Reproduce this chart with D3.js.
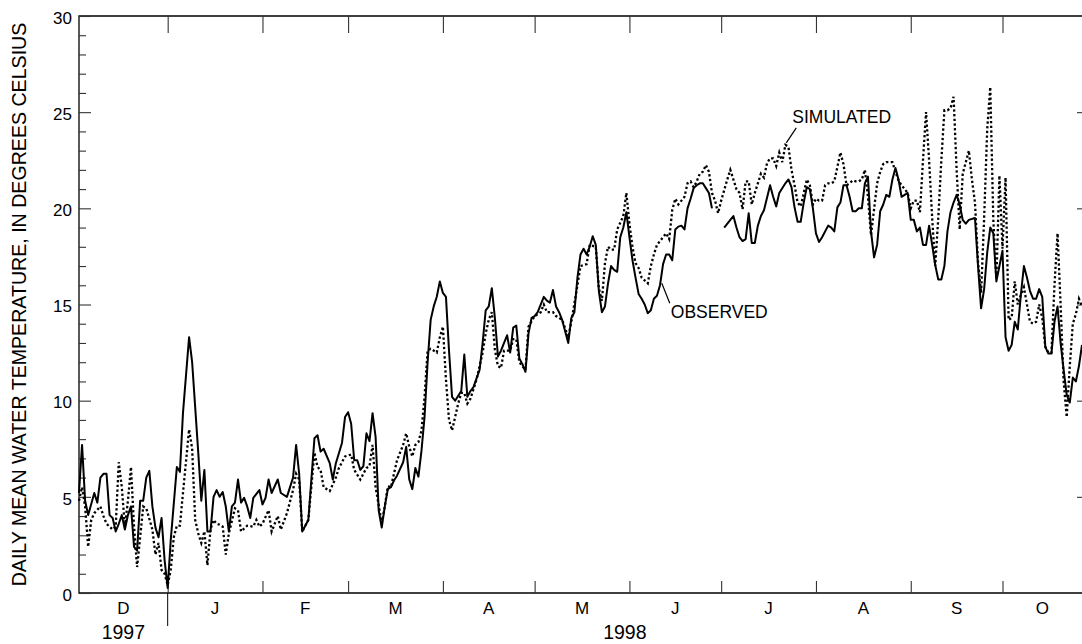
<!DOCTYPE html>
<html>
<head>
<meta charset="utf-8">
<script src="https://cdn.jsdelivr.net/npm/d3@7"></script>
<style>
  body { margin: 0; background: #fff; }
  svg { display: block; font-family: "Liberation Sans", Arial, sans-serif; }
</style>
</head>
<body>
<svg id="chart" width="1082" height="644"></svg>
<script>
/* Zeitraum */
const startDay = new Date(Date.UTC(1997, 11, 3));
const endDay   = new Date(Date.UTC(1998, 9, 27));

/* Achsenbeschriftung */
const monthLabels = ["D", "J", "F", "M", "A", "M", "J", "J", "A", "S", "O"];
const yearLabels  = ["1997", "1998"];
const yMajor      = [0, 5, 10, 15, 20, 25, 30];
const yMinor      = d3.range(0, 31);
const yRight      = [5, 10, 15, 20, 25];
const yLabel      = "DAILY MEAN WATER TEMPERATURE, IN DEGREES CELSIUS";

/* Tageswerte: [Tag seit 3.12.1997, Temperatur] */
const observed = [[0,5.2],[1,7.7],[2,4.8],[3,4.05],[5,5.2],[6,4.7],[7,6.0],[8,6.2],[9,6.2],[10,4.05],[11,3.9],[12,3.2],[13,3.6],[14,4.05],[15,3.3],[16,4.05],[17,4.5],[18,2.4],[19,2.2],[20,4.8],[21,4.8],[22,6.0],[23,6.35],[24,4.5],[25,3.4],[26,2.9],[27,3.9],[28,1.7],[29,0.26],[30,2.75],[32,6.55],[33,6.3],[34,9.35],[36,13.3],[37,12.0],[39,7.3],[40,4.8],[41,6.4],[42,3.2],[43,3.2],[44,5.0],[45,5.35],[46,5.0],[47,5.25],[48,4.5],[49,3.2],[50,4.5],[51,4.7],[52,5.9],[53,4.7],[54,4.95],[55,4.5],[56,3.9],[57,4.95],[59,5.35],[60,4.6],[61,4.95],[62,5.9],[63,5.2],[65,5.9],[66,5.2],[68,5.0],[70,6.0],[71,7.7],[72,6.2],[73,3.2],[75,3.8],[77,8.05],[78,8.2],[79,7.35],[80,7.5],[82,6.75],[83,5.9],[84,6.75],[86,7.8],[87,9.15],[88,9.4],[89,8.8],[90,6.9],[91,6.9],[92,6.4],[93,6.6],[94,8.3],[95,7.9],[96,9.35],[97,8.1],[98,4.3],[99,3.4],[100,4.5],[101,5.4],[102,5.5],[103,5.85],[104,6.1],[106,6.8],[107,7.6],[108,5.9],[109,5.4],[110,6.5],[111,6.05],[112,7.4],[113,9.15],[114,12.0],[115,14.2],[116,14.9],[117,15.4],[118,16.2],[119,15.6],[120,15.4],[121,12.6],[122,10.2],[123,10.0],[125,10.5],[126,12.4],[127,10.2],[128,10.5],[129,10.7],[131,11.6],[132,13.0],[133,14.7],[134,14.9],[135,15.85],[136,14.3],[137,12.3],[138,12.6],[139,13.0],[140,13.4],[141,12.5],[142,13.8],[143,13.9],[144,12.2],[145,11.9],[146,11.5],[147,13.5],[148,14.3],[149,14.4],[150,14.6],[152,15.4],[153,15.2],[154,15.1],[155,15.75],[156,14.9],[157,14.6],[158,14.2],[160,13.0],[161,14.3],[162,14.6],[163,16.4],[164,17.6],[165,17.9],[166,17.6],[167,18.0],[168,18.55],[169,18.1],[170,15.7],[171,14.6],[172,14.9],[173,16.1],[174,17.0],[175,16.8],[176,16.7],[177,18.5],[178,19.0],[179,19.8],[180,18.5],[181,17.3],[182,16.4],[183,15.55],[184,15.3],[185,15.0],[186,14.55],[187,14.7],[188,15.3],[189,15.45],[190,16.0],[191,17.1],[192,17.6],[193,17.6],[194,17.3],[195,18.9],[196,19.05],[197,19.1],[198,18.9],[199,20.0],[200,20.5],[201,21.05],[202,21.2],[203,21.3],[204,21.3],[205,21.05],[206,20.8],[207,20.0],[209,null],[211,19.0],[213,19.4],[214,19.6],[215,19.0],[216,18.5],[217,18.3],[218,18.4],[219,19.75],[220,18.2],[221,18.2],[222,19.1],[223,19.6],[224,19.9],[226,21.2],[227,20.6],[228,20.1],[229,20.8],[231,21.3],[232,21.5],[233,21.1],[234,20.05],[235,19.3],[236,19.3],[237,20.3],[238,21.1],[239,21.0],[240,20.0],[241,18.7],[242,18.25],[243,18.5],[245,19.1],[246,19.0],[247,18.8],[248,20.05],[249,20.3],[250,21.2],[251,21.2],[252,20.6],[253,19.85],[254,19.85],[255,20.0],[256,20.0],[257,21.3],[258,21.65],[259,18.8],[260,17.45],[261,18.1],[262,19.85],[263,20.2],[264,20.7],[265,20.6],[266,21.5],[267,22.1],[268,21.5],[269,20.6],[270,20.7],[271,20.8],[272,19.4],[273,19.4],[274,18.8],[275,19.0],[276,18.1],[277,18.1],[278,19.1],[279,18.1],[280,17.05],[281,16.3],[282,16.3],[283,17.0],[284,18.8],[285,19.8],[286,20.3],[287,20.7],[288,20.2],[289,19.4],[290,19.2],[291,19.4],[293,19.5],[294,17.0],[295,14.8],[296,15.8],[297,17.7],[298,19.0],[299,18.7],[300,16.2],[301,17.0],[302,17.8],[303,13.3],[304,12.6],[305,12.9],[306,14.1],[307,13.7],[308,15.5],[309,17.0],[310,16.4],[311,15.7],[312,15.3],[313,15.3],[314,15.8],[315,15.4],[316,12.8],[317,12.45],[318,12.45],[319,14.1],[320,14.9],[321,13.0],[322,11.6],[323,10.3],[324,9.9],[325,11.2],[326,11.0],[327,11.8],[328,12.9]];

const simulated = [[0,4.8],[1,5.5],[2,4.5],[3,2.4],[4,3.8],[5,4.15],[7,4.5],[8,4.0],[9,3.6],[11,3.3],[12,3.45],[13,6.8],[14,5.5],[15,3.45],[16,4.8],[17,6.55],[18,3.45],[19,1.35],[20,2.9],[21,4.5],[22,4.4],[24,3.3],[25,2.0],[26,2.6],[27,1.2],[28,1.0],[29,0.4],[30,1.2],[31,2.9],[32,3.5],[33,3.5],[34,5.2],[36,8.5],[37,7.5],[38,3.8],[39,3.1],[40,2.6],[41,3.2],[42,1.45],[43,3.3],[44,3.8],[45,3.6],[46,3.55],[47,3.45],[48,2.0],[49,3.1],[51,4.4],[52,4.3],[53,3.2],[55,3.5],[57,3.45],[58,3.8],[59,3.45],[60,3.6],[62,4.3],[63,3.2],[64,3.6],[65,4.0],[66,3.3],[68,4.15],[70,5.35],[71,6.2],[72,5.9],[73,3.2],[75,3.8],[77,7.3],[78,6.55],[79,6.4],[80,5.5],[82,5.3],[84,6.0],[85,6.5],[87,7.1],[89,7.2],[90,6.4],[92,5.9],[94,6.5],[95,6.6],[96,7.7],[97,5.5],[99,3.65],[100,4.5],[101,5.55],[102,5.5],[103,6.2],[104,6.9],[106,7.7],[107,8.3],[108,7.6],[109,7.1],[110,7.7],[111,7.85],[112,8.45],[113,10.2],[114,12.6],[115,12.7],[117,12.5],[118,13.3],[119,13.85],[120,11.1],[121,9.0],[122,8.45],[124,9.85],[125,10.4],[126,10.4],[127,9.85],[128,10.1],[130,11.1],[132,12.5],[133,13.5],[134,14.2],[135,14.6],[136,12.65],[137,11.8],[138,11.7],[139,12.6],[141,12.6],[142,13.2],[143,13.2],[144,12.0],[146,11.6],[147,13.85],[149,14.4],[151,14.6],[152,15.0],[153,14.6],[155,14.6],[156,14.4],[158,14.2],[160,13.3],[161,14.1],[163,16.0],[164,17.0],[166,17.1],[167,18.1],[169,18.0],[170,15.85],[171,15.2],[172,17.15],[173,18.0],[174,17.85],[175,17.85],[176,18.9],[178,19.6],[179,20.8],[180,19.2],[181,18.0],[182,17.15],[183,16.9],[184,16.4],[186,16.1],[187,17.0],[188,17.6],[189,18.1],[191,18.5],[192,18.7],[193,18.4],[194,19.9],[195,20.5],[196,20.2],[198,20.6],[199,21.3],[200,21.4],[201,21.1],[202,21.4],[203,21.8],[204,21.9],[205,22.25],[206,21.9],[207,20.8],[208,20.4],[209,19.75],[210,20.4],[212,21.5],[213,22.0],[214,21.5],[215,21.0],[216,20.8],[217,19.95],[218,21.4],[219,21.4],[220,20.2],[221,20.8],[222,21.3],[223,21.8],[224,21.6],[225,22.35],[226,22.6],[227,22.6],[228,22.2],[229,22.9],[230,22.4],[231,23.3],[232,23.2],[233,22.0],[234,21.2],[235,20.3],[236,20.1],[237,20.8],[238,21.5],[239,21.2],[240,20.2],[241,20.5],[242,20.4],[243,20.4],[244,21.2],[245,21.3],[246,21.3],[247,21.4],[248,22.15],[249,22.9],[250,22.3],[251,21.2],[252,21.3],[253,21.45],[254,21.4],[255,21.4],[256,21.5],[257,22.0],[258,20.6],[259,18.6],[260,19.95],[261,21.3],[262,21.9],[263,22.3],[264,22.4],[265,22.4],[266,22.4],[267,21.9],[268,21.45],[269,21.2],[270,21.0],[271,20.8],[272,20.0],[273,20.4],[274,20.4],[275,19.8],[276,22.5],[277,25.0],[278,22.5],[279,19.5],[280,17.0],[281,19.5],[282,22.5],[283,25.1],[284,25.1],[285,25.2],[286,25.8],[287,22.0],[288,18.9],[289,21.8],[290,22.4],[291,23.0],[292,21.5],[293,20.3],[294,17.2],[295,15.6],[296,19.5],[297,24.1],[298,26.3],[299,19.4],[300,16.3],[301,21.7],[302,17.9],[303,21.6],[304,14.2],[305,14.3],[306,16.2],[307,15.0],[308,15.5],[309,15.9],[310,15.0],[311,14.1],[312,14.0],[313,14.1],[314,15.0],[315,14.3],[316,12.8],[317,12.5],[318,12.5],[319,16.0],[320,18.7],[321,15.0],[322,11.0],[323,9.15],[324,11.8],[325,14.0],[326,14.5],[327,15.3],[328,14.9]];

/* Beschriftungen an den Kurven: [Tag, Temperatur] des Anknuepfpunkts */
const obsNote = { label: "OBSERVED",  day: 190.6, temp: 16.1 };
const simNote = { label: "SIMULATED", day: 231.3, temp: 23.4 };

/* Layout */
const margin = { left: 79, right: 0, top: 16, bottom: 51 };
const width  = 1082;
const height = 644;
const plotBottom = height - margin.bottom;

const svg = d3.select("#chart");
svg.append("rect").attr("width", width).attr("height", height).attr("fill", "#fff");

const toDate = (d) => d3.utcDay.offset(startDay, d);

const x = d3.scaleUtc()
  .domain([startDay, endDay])
  .range([margin.left, width - margin.right]);

const y = d3.scaleLinear()
  .domain([0, 30])
  .range([plotBottom, margin.top]);

// Rahmen
svg.append("path")
  .attr("d", `M${width + 10},${margin.top}H${margin.left}V${plotBottom}H${width + 10}`)
  .attr("fill", "none")
  .attr("stroke", "#000")
  .attr("stroke-width", 1.3);

// Monatsgrenzen
const monthStarts = d3.utcMonth.range(d3.utcMonth.ceil(startDay), endDay);

const xBottom = svg.append("g")
  .attr("transform", `translate(0,${plotBottom})`)
  .call(d3.axisBottom(x).tickValues(monthStarts).tickSize(-12).tickSizeOuter(0).tickFormat(""));

const xTop = svg.append("g")
  .attr("transform", `translate(0,${margin.top})`)
  .call(d3.axisTop(x).tickValues(monthStarts).tickSize(-17).tickSizeOuter(0).tickFormat(""));

// Jahrestrennung
const newYear = new Date(Date.UTC(1998, 0, 1));
svg.append("line")
  .attr("x1", x(newYear)).attr("x2", x(newYear))
  .attr("y1", plotBottom).attr("y2", plotBottom + 33)
  .attr("stroke", "#000").attr("stroke-width", 1);

// Monatsnamen mittig im Monat
const monthSpans = d3.utcMonth.range(d3.utcMonth.floor(startDay), endDay).map((m, i) => {
  let a = m < startDay ? startDay : m;
  let b = d3.utcMonth.offset(m, 1);
  if (b > endDay) b = endDay;
  return { label: monthLabels[i], mid: (x(a) + x(b)) / 2 };
});

svg.append("g").selectAll("text")
  .data(monthSpans)
  .enter().append("text")
    .attr("x", (d) => d.mid)
    .attr("y", plotBottom + 21)
    .attr("text-anchor", "middle")
    .style("font-size", "17px")
    .text((d) => d.label);

// Jahreszahlen
const yearSpans = [
  (x(startDay) + x(newYear)) / 2,
  (x(newYear) + x(endDay)) / 2
];
svg.append("g").selectAll("text")
  .data(yearLabels)
  .enter().append("text")
    .attr("x", (d, i) => yearSpans[i])
    .attr("y", plotBottom + 46)
    .attr("text-anchor", "middle")
    .style("font-size", "19.5px")
    .text((d) => d);

// Y-Achse links
svg.append("g")
  .attr("transform", `translate(${margin.left},0)`)
  .call(d3.axisLeft(y).tickValues(yMinor.filter((v) => v % 5 !== 0)).tickSize(-7).tickSizeOuter(0).tickFormat(""));

const yLeft = svg.append("g")
  .attr("transform", `translate(${margin.left},0)`)
  .call(d3.axisLeft(y).tickValues(yMajor).tickSize(-12).tickSizeOuter(0).tickPadding(7));

yLeft.selectAll("text")
  .attr("dy", "0.43em")
  .style("font-size", "17px")
  .style("fill", "#000");

// Y-Achse rechts (nur Hauptstriche)
svg.append("g")
  .attr("transform", `translate(${width + 6},0)`)
  .call(d3.axisRight(y).tickValues(yRight).tickSize(-11).tickSizeOuter(0).tickFormat(""));

svg.selectAll(".domain").remove();
svg.selectAll(".tick line").attr("stroke", "#333").attr("stroke-width", 1.1);

// Achsentitel
svg.append("text")
  .attr("transform", `translate(25.5,${(margin.top + plotBottom) / 2}) rotate(-90)`)
  .attr("text-anchor", "middle")
  .style("font-size", "19.6px")
  .text(yLabel);

// Kurven
const line = d3.line()
  .defined((d) => d[1] != null)
  .x((d) => x(toDate(d[0])))
  .y((d) => y(d[1]));

svg.append("path")
  .datum(simulated)
  .attr("d", line)
  .attr("fill", "none")
  .attr("stroke", "#000")
  .attr("stroke-width", 2.3)
  .attr("stroke-dasharray", "2.3,2.4");

svg.append("path")
  .datum(observed)
  .attr("d", line)
  .attr("fill", "none")
  .attr("stroke", "#000")
  .attr("stroke-width", 2)
  .attr("stroke-linejoin", "round");

// Beschriftungen mit Fuehrungslinie
function note(n, dx, dy, tx, ty) {
  let px = x(d3.utcHour.offset(startDay, Math.round(n.day * 24))),
      py = y(n.temp);
  svg.append("line")
    .attr("x1", px).attr("y1", py)
    .attr("x2", px + dx).attr("y2", py + dy)
    .attr("stroke", "#000").attr("stroke-width", 1.2);
  svg.append("text")
    .attr("x", px + tx)
    .attr("y", py + ty)
    .style("font-size", "17.5px")
    .text(n.label);
}

note(obsNote, 8, 20, 9, 35);
note(simNote, 10, -15, 6, -19.5);
</script>
</body>
</html>
